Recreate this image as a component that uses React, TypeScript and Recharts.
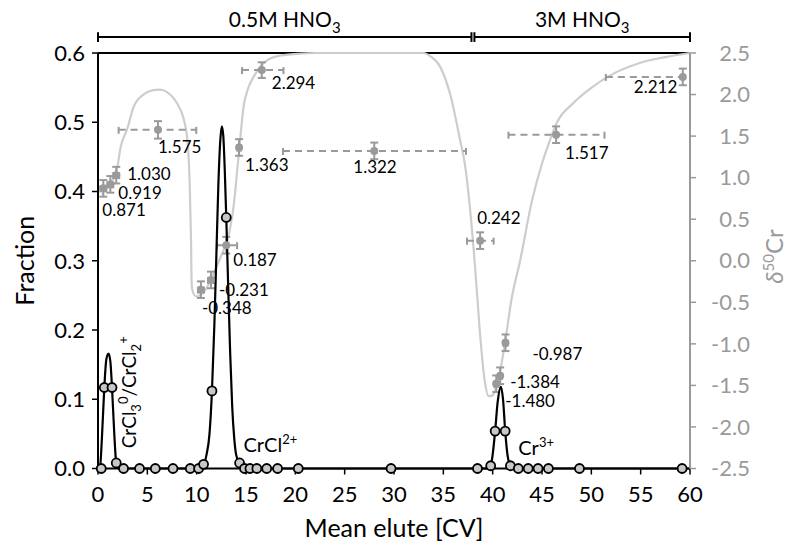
import React from 'react';
import {
  ComposedChart,
  Line,
  Scatter,
  XAxis,
  YAxis,
  ErrorBar,
  ReferenceLine,
  ReferenceDot,
} from 'recharts';

const FONT = 'Lato, "DejaVu Sans", sans-serif';
const GREY = '#9a9a9a';
const CURVE_GREY = '#cdcdcd';

// axis ticks
const xTicks = [0, 5, 10, 15, 20, 25, 30, 35, 40, 45, 50, 55, 60];
const fracTicks = [0, 0.1, 0.2, 0.3, 0.4, 0.5, 0.6];
const deltaTicks = [-2.5, -2, -1.5, -1, -0.5, 0, 0.5, 1, 1.5, 2, 2.5];

// measured elution fractions (open circles)
const fracX = [0.33, 0.64, 1.42, 1.85, 2.59, 4.21, 5.81, 7.6, 9.35, 10.2, 10.7, 11.55, 13.0, 14.35, 14.85, 15.4, 16.1, 17.1, 18.2, 20.3, 29.7, 38.46, 39.8, 40.25, 41.27, 41.8, 42.6, 43.6, 44.6, 45.65, 48.8, 59.2];
const fracY = [0, 0.117, 0.117, 0.008, 0, 0, 0, 0, 0, 0, 0.006, 0.112, 0.3625, 0.008, 0, 0, 0, 0, 0, 0, 0, 0, 0.004, 0.054, 0.054, 0.004, 0, 0, 0, 0, 0, 0];

// fitted elution peaks (black line)
const fitX = [0, 0.2, 0.4, 0.64, 0.85, 1.07, 1.25, 1.42, 1.65, 1.85, 2.1, 10.3, 10.7, 11.0, 11.3, 11.55, 11.8, 12.0, 12.2, 12.4, 12.55, 12.7, 12.85, 13.0, 13.2, 13.4, 13.6, 13.8, 14.0, 14.35, 14.7, 39.4, 39.8, 40.0, 40.25, 40.5, 40.83, 41.05, 41.27, 41.5, 41.8, 42.2, 60];
const fitY = [0, 0.002, 0.045, 0.117, 0.158, 0.166, 0.155, 0.117, 0.05, 0.008, 0, 0, 0.005, 0.02, 0.05, 0.112, 0.21, 0.31, 0.41, 0.475, 0.494, 0.48, 0.43, 0.3625, 0.26, 0.165, 0.09, 0.045, 0.02, 0.007, 0, 0, 0.004, 0.02, 0.054, 0.095, 0.118, 0.1, 0.054, 0.02, 0.004, 0, 0];

// modelled d50Cr curve (light grey)
const modelX = [0.4, 1.0, 1.85, 2.3, 3.0, 3.6, 4.6, 5.5, 6.3, 7.0, 7.7, 8.3, 8.7, 9.1, 9.3, 9.42, 9.5, 9.7, 10.0, 10.5, 11.0, 11.4, 12.1, 12.73, 13.07, 13.4, 13.74, 14.08, 14.4, 14.75, 15.2, 15.8, 16.8, 18.1, 20.2, 22, 33, 33.7, 34.7, 35.7, 36.7, 37.2, 37.6, 38.2, 38.7, 39.2, 39.6, 40.0, 40.4, 40.8, 41.3, 41.9, 42.8, 44.0, 45.0, 45.8, 46.5, 48.2, 50, 51.6, 54.9, 57.5, 60];
const modelY = [0.8, 0.9, 1.06, 1.37, 1.6, 1.85, 2.0, 2.05, 2.06, 2.03, 1.95, 1.83, 1.7, 1.4, 0.9, 0.3, -0.3, -0.4, -0.43, -0.4, -0.33, -0.24, -0.05, 0.13, 0.22, 0.4, 0.65, 1.05, 1.45, 1.85, 2.07, 2.22, 2.38, 2.46, 2.49, 2.5, 2.5, 2.46, 2.33, 2.0, 1.45, 1.15, 0.75, -0.05, -0.85, -1.45, -1.63, -1.62, -1.5, -1.3, -0.95, -0.47, 0.01, 0.73, 1.17, 1.45, 1.66, 1.9, 2.08, 2.21, 2.38, 2.45, 2.5];

// measured d50Cr with errors (grey points)
const deltaX = [0.54, 1.25, 1.85, 6.08, 10.43, 11.45, 13.0, 14.3, 16.6, 28.0, 38.73, 40.36, 40.76, 41.3, 46.43, 59.27];
const deltaY = [0.871, 0.919, 1.03, 1.575, -0.348, -0.231, 0.187, 1.363, 2.294, 1.322, 0.242, -1.48, -1.384, -0.987, 1.517, 2.212];
const xErrLow = [0.3, 0.3, 0.3, 3.99, 0.3, 0.3, 0.94, 0.2, 2.0, 9.25, 1.33, 0.2, 0.2, 0.2, 4.83, 7.8];
const xErrHigh = [0.3, 0.3, 0.3, 3.88, 0.3, 0.3, 1.1, 0.2, 2.2, 9.3, 1.37, 0.2, 0.2, 0.2, 4.9, 0];
const yErr = [0.1, 0.1, 0.1, 0.105, 0.1, 0.1, 0.1, 0.1, 0.094, 0.1, 0.1, 0.1, 0.1, 0.1, 0.1, 0.1];

// eluent phases
const phaseFrom = [0, 38.15];
const phaseTo = [37.85, 60];
const phaseAcid = ['0.5M', '3M'];

// where each value label sits relative to its point (px)
const labelDx = [-1, 8, 11, 0, 1, 8, 7, 6, 10, -21, -3, 9, 10, 27, 9, -49];
const labelDy = [22, 9, -1, 17, 18, 10, 15, 18, 13, 16, -23, 17, 6, 11, 18, 10];

const fracPts = fracX.map((x, i) => ({ x, y: fracY[i] }));
const fitPts = fitX.map((x, i) => ({ x, y: fitY[i] }));
const modelPts = modelX.map((x, i) => ({ x, y: modelY[i] }));
const deltaPts = deltaX.map((x, i) => ({
  x,
  y: deltaY[i],
  ex: [xErrLow[i], xErrHigh[i]],
  ey: yErr[i],
  i,
}));

const BRACKET_Y = 0.623;
const CAP = 0.007;

const RightTick = (props: any) => (
  <text x={props.x + 52} y={props.y} dy="0.35em" textAnchor="end" fill={GREY} fontSize={22} fontFamily={FONT}>
    {props.payload.value.toFixed(1)}
  </text>
);

const App: React.FC = () => {
  return (
    <div style={{ position: 'absolute', left: 0, top: 0, width: 800, height: 555, background: '#fff' }}>
      <ComposedChart width={800} height={555} margin={{ top: 53, right: 0, bottom: 11.5, left: 0 }}>
        <XAxis
          type="number"
          dataKey="x"
          domain={[0, 60]}
          ticks={xTicks}
          interval={0}
          height={75}
          tickSize={6}
          tickMargin={12}
          axisLine={{ stroke: '#000', strokeWidth: 2 }}
          tickLine={{ stroke: '#000', strokeWidth: 1.5 }}
          tick={{ fill: '#000', fontSize: 22, fontFamily: FONT }}
          label={{
            value: 'Mean elute [CV]',
            position: 'insideBottom',
            offset: 7,
            style: { fill: '#000', fontSize: 25, fontFamily: FONT, textAnchor: 'middle' },
          }}
        />
        <YAxis
          yAxisId="left"
          dataKey="y"
          domain={[0, 0.6]}
          ticks={fracTicks}
          interval={0}
          width={98}
          tickSize={6}
          tickMargin={7}
          tickFormatter={(v: number) => v.toFixed(1)}
          axisLine={{ stroke: '#000', strokeWidth: 2 }}
          tickLine={{ stroke: '#000', strokeWidth: 1.5 }}
          tick={{ fill: '#000', fontSize: 22, fontFamily: FONT }}
          label={{
            value: 'Fraction',
            angle: -90,
            position: 'insideLeft',
            offset: 25,
            style: { fill: '#000', fontSize: 25, fontFamily: FONT, textAnchor: 'middle' },
          }}
        />
        <YAxis
          yAxisId="right"
          orientation="right"
          dataKey="y"
          domain={[-2.5, 2.5]}
          ticks={deltaTicks}
          interval={0}
          width={110}
          tickSize={6}
          axisLine={{ stroke: GREY, strokeWidth: 2 }}
          tickLine={{ stroke: GREY, strokeWidth: 1.5 }}
          tick={<RightTick />}
        />

        <ReferenceLine yAxisId="left" y={0.6} stroke="#000" strokeWidth={2} />

        {/* eluent brackets above the plot */}
        {phaseFrom.map((from, i) => (
          <ReferenceLine
            key={'ph' + i}
            yAxisId="left"
            ifOverflow="visible"
            stroke="#000"
            strokeWidth={2}
            segment={[{ x: from, y: BRACKET_Y }, { x: phaseTo[i], y: BRACKET_Y }]}
          />
        ))}
        {[...phaseFrom, ...phaseTo].map((x, i) => (
          <ReferenceLine
            key={'cap' + i}
            yAxisId="left"
            ifOverflow="visible"
            stroke="#000"
            strokeWidth={2}
            segment={[{ x, y: BRACKET_Y - CAP }, { x, y: BRACKET_Y + CAP }]}
          />
        ))}
        {phaseFrom.map((from, i) => (
          <ReferenceDot
            key={'pt' + i}
            yAxisId="left"
            x={(from + phaseTo[i]) / 2}
            y={0.6477}
            ifOverflow="visible"
            shape={(p: any) => (
              <text x={p.cx} y={p.cy} dy="0.35em" textAnchor="middle" fontSize={21} fontFamily={FONT} fill="#000">
                {phaseAcid[i]} HNO
                <tspan dy={6} fontSize={15}>3</tspan>
              </text>
            )}
          />
        ))}

        <Line
          yAxisId="right"
          data={modelPts}
          dataKey="y"
          type="monotone"
          stroke={CURVE_GREY}
          strokeWidth={2.2}
          dot={false}
          activeDot={false}
          isAnimationActive={false}
        />

        <Scatter
          yAxisId="right"
          data={deltaPts}
          isAnimationActive={false}
          shape={(p: any) => {
            const i = p.payload.i;
            return (
              <g>
                <circle cx={p.cx} cy={p.cy} r={4} fill={GREY} />
                <text
                  x={p.cx + labelDx[i]}
                  y={p.cy + labelDy[i]}
                  dy="0.35em"
                  fontSize={17}
                  fontFamily={FONT}
                  fill="#000"
                >
                  {deltaY[i].toFixed(3)}
                </text>
              </g>
            );
          }}
        >
          <ErrorBar dataKey="ex" direction="x" width={4} stroke={GREY} strokeWidth={2} strokeDasharray="7 5" />
          <ErrorBar dataKey="ey" direction="y" width={4} stroke={GREY} strokeWidth={2} />
        </Scatter>

        <Line
          yAxisId="left"
          data={fitPts}
          dataKey="y"
          type="monotone"
          stroke="#000"
          strokeWidth={2.2}
          dot={false}
          activeDot={false}
          isAnimationActive={false}
        />

        <Scatter
          yAxisId="left"
          data={fracPts}
          isAnimationActive={false}
          shape={(p: any) => (
            <circle cx={p.cx} cy={p.cy} r={4.5} fill="#c8c8c8" stroke="#000" strokeWidth={1.8} />
          )}
        />

        {/* species labels */}
        <ReferenceDot
          yAxisId="left"
          x={3.17}
          y={0.11}
          ifOverflow="visible"
          shape={(p: any) => (
            <text
              x={p.cx}
              y={p.cy}
              dy="0.35em"
              textAnchor="middle"
              transform={`rotate(-90 ${p.cx} ${p.cy})`}
              fontSize={19}
              fontFamily={FONT}
              fill="#000"
            >
              CrCl
              <tspan dy={5} fontSize={13}>3</tspan>
              <tspan dy={-13} fontSize={13}>0</tspan>
              <tspan dy={8}>/CrCl</tspan>
              <tspan dy={5} fontSize={13}>2</tspan>
              <tspan dy={-13} fontSize={13}>+</tspan>
            </text>
          )}
        />
        <ReferenceDot
          yAxisId="left"
          x={14.75}
          y={0.034}
          ifOverflow="visible"
          shape={(p: any) => (
            <text x={p.cx} y={p.cy} dy="0.35em" fontSize={20} fontFamily={FONT} fill="#000">
              CrCl
              <tspan dy={-8} fontSize={13}>2+</tspan>
            </text>
          )}
        />
        <ReferenceDot
          yAxisId="left"
          x={42.6}
          y={0.03}
          ifOverflow="visible"
          shape={(p: any) => (
            <text x={p.cx} y={p.cy} dy="0.35em" fontSize={20} fontFamily={FONT} fill="#000">
              Cr
              <tspan dy={-8} fontSize={13}>3+</tspan>
            </text>
          )}
        />

        {/* right axis title */}
        <ReferenceDot
          yAxisId="right"
          x={60}
          y={0.05}
          ifOverflow="visible"
          shape={(p: any) => (
            <text
              x={p.cx + 85}
              y={p.cy}
              dy="0.35em"
              textAnchor="middle"
              transform={`rotate(-90 ${p.cx + 85} ${p.cy})`}
              fontSize={24}
              fontFamily={FONT}
              fill={GREY}
            >
              <tspan fontStyle="italic">δ</tspan>
              <tspan dy={-9} fontSize={15}>50</tspan>
              <tspan dy={9}>Cr</tspan>
            </text>
          )}
        />
      </ComposedChart>
    </div>
  );
};

export default App;
